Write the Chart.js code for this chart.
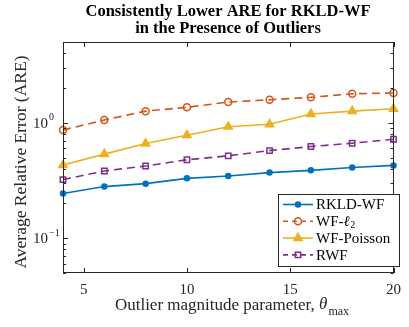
<!DOCTYPE html>
<html>
<head>
<meta charset="utf-8">
<script src="https://cdn.jsdelivr.net/npm/chart.js@4.4.1/dist/chart.umd.min.js"></script>
<style>
  html, body { margin: 0; padding: 0; background: #fff; }
</style>
</head>
<body>
<canvas id="chart" width="409" height="327"></canvas>
<script>
// ── Data ─────────────────────────────────────────────────────────────────────
const thetaMax   = [4, 6, 8, 10, 12, 14, 16, 18, 20];
const areRkldWf  = [0.244, 0.280, 0.297, 0.330, 0.346, 0.370, 0.387, 0.410, 0.427];
const areWfL2    = [0.865, 1.055, 1.26, 1.36, 1.51, 1.58, 1.66, 1.78, 1.81];
const areWfPois  = [0.430, 0.535, 0.660, 0.780, 0.924, 0.969, 1.19, 1.26, 1.32];
const areRwf     = [0.322, 0.382, 0.422, 0.478, 0.517, 0.574, 0.622, 0.665, 0.719];

const xTickValues = [5, 10, 15, 20];
const yMajorTicks = [0.1, 1];
const yMajorExps  = ['-1', '0'];
const yMinorTicks = [0.05, 0.06, 0.07, 0.08, 0.09, 0.2, 0.3, 0.4, 0.5, 0.6, 0.7, 0.8, 0.9, 2, 3, 4, 5];

const TITLE_LINES = ['Consistently Lower ARE for RKLD-WF', 'in the Presence of Outliers'];
const SERIF = "'Liberation Serif', 'Times New Roman', serif";
const INK   = '#262626';

// MATLAB default colour order
const C_BLUE   = '#0072BD';
const C_ORANGE = '#D95319';
const C_YELLOW = '#EDB120';
const C_PURPLE = '#7E2F8E';

function series(label, data, color, style, radius, filled, dashed) {
  return {
    label,
    data: thetaMax.map((x, i) => ({ x, y: data[i] })),
    borderColor: color,
    backgroundColor: color,
    borderWidth: 1.6,
    borderDash: dashed ? [8, 5] : [],
    pointStyle: style,
    pointRadius: radius,
    pointBorderWidth: 1.5,
    pointBorderColor: color,
    pointBackgroundColor: filled ? color : 'rgba(0,0,0,0)',
    tension: 0,
    clip: false,
  };
}

// ── Frame, inward ticks, labels, legend ──────────────────────────────────────
const decorations = {
  id: 'decorations',
  afterDraw(chart) {
    const { ctx, chartArea: a, scales: { x, y } } = chart;
    ctx.save();

    // axes box
    ctx.strokeStyle = INK;
    ctx.lineWidth = 1;
    ctx.strokeRect(Math.round(a.left) + 0.5, Math.round(a.top) + 0.5,
                   Math.round(a.right - a.left) - 1, Math.round(a.bottom - a.top) - 1);

    // x ticks (top and bottom, inward)
    ctx.beginPath();
    xTickValues.forEach(v => {
      const px = Math.round(x.getPixelForValue(v)) + 0.5;
      ctx.moveTo(px, a.bottom); ctx.lineTo(px, a.bottom - 5);
      ctx.moveTo(px, a.top);    ctx.lineTo(px, a.top + 5);
    });
    // y ticks (left and right, inward)
    yMajorTicks.concat(yMinorTicks).forEach(v => {
      const len = yMajorTicks.includes(v) ? 5 : 3;
      const py = Math.round(y.getPixelForValue(v)) + 0.5;
      ctx.moveTo(a.left, py);  ctx.lineTo(a.left + len, py);
      ctx.moveTo(a.right, py); ctx.lineTo(a.right - len, py);
    });
    ctx.stroke();

    // y tick labels with superscripts
    ctx.fillStyle = INK;
    ctx.textBaseline = 'middle';
    yMajorTicks.forEach((v, i) => {
      const py = y.getPixelForValue(v);
      ctx.font = `15px ${SERIF}`;
      ctx.textAlign = 'right';
      ctx.fillText('10', 48, py + 1);
      ctx.font = `10px ${SERIF}`;
      ctx.textAlign = 'left';
      ctx.fillText(yMajorExps[i].replace('-', '\u2212'), 49, py - 5);
    });

    // title
    ctx.textAlign = 'center';
    ctx.font = `bold 16.5px ${SERIF}`;
    ctx.fillStyle = '#000';
    ctx.fillText(TITLE_LINES[0], 228, 12);
    ctx.fillText(TITLE_LINES[1], 228, 29);

    // y-axis title
    ctx.fillStyle = INK;
    ctx.save();
    ctx.translate(21, 162);
    ctx.rotate(-Math.PI / 2);
    ctx.font = `17.5px ${SERIF}`;
    ctx.fillText('Average Relative Error (ARE)', 0, 0);
    ctx.restore();

    // x-axis title with italic theta and subscript
    const partA = 'Outlier magnitude parameter, ';
    ctx.font = `17px ${SERIF}`;
    const wA = ctx.measureText(partA).width;
    ctx.font = `italic 17px ${SERIF}`;
    const wT = ctx.measureText('\u03B8').width;
    ctx.font = `12px ${SERIF}`;
    const wS = ctx.measureText('max').width;
    let tx = 232 - (wA + wT + wS + 1) / 2;
    ctx.textAlign = 'left';
    ctx.font = `17px ${SERIF}`;
    ctx.fillText(partA, tx, 306);
    tx += wA;
    ctx.font = `italic 17px ${SERIF}`;
    ctx.fillText('\u03B8', tx, 305);
    tx += wT + 1;
    ctx.font = `12px ${SERIF}`;
    ctx.fillText('max', tx, 312);

    // legend box (bottom-right, inside axes)
    const lx = 278, ly = 194, lw = 121, lh = 72;
    ctx.fillStyle = '#fff';
    ctx.fillRect(lx, ly, lw, lh);
    ctx.strokeStyle = INK;
    ctx.lineWidth = 1;
    ctx.strokeRect(lx + 0.5, ly + 0.5, lw, lh);

    chart.data.datasets.forEach((ds, i) => {
      const ry = ly + 10.5 + i * 16.8;
      ctx.save();
      ctx.strokeStyle = ds.borderColor;
      ctx.lineWidth = ds.borderWidth;
      ctx.setLineDash(ds.borderDash.length ? [5, 4] : []);
      ctx.beginPath();
      ctx.moveTo(283, ry); ctx.lineTo(313, ry);
      ctx.stroke();
      ctx.setLineDash([]);
      ctx.fillStyle = ds.pointBackgroundColor;
      ctx.strokeStyle = ds.pointBorderColor;
      ctx.lineWidth = ds.pointBorderWidth;
      Chart.helpers.drawPoint(ctx, {
        pointStyle: ds.pointStyle, radius: ds.pointRadius,
        borderWidth: ds.pointBorderWidth, rotation: 0,
      }, 298, ry);
      ctx.restore();

      ctx.fillStyle = '#000';
      ctx.textAlign = 'left';
      ctx.font = `15px ${SERIF}`;
      if (ds.label === 'WF-l2') {
        ctx.fillText('WF-', 316, ry + 1);
        const w1 = ctx.measureText('WF-').width;
        ctx.font = `italic 15px ${SERIF}`;
        ctx.fillText('\u2113', 316 + w1, ry + 1);
        const w2 = ctx.measureText('\u2113').width;
        ctx.font = `10px ${SERIF}`;
        ctx.fillText('2', 316 + w1 + w2 + 0.5, ry + 4);
      } else {
        ctx.fillText(ds.label, 316, ry + 1);
      }
    });

    ctx.restore();
  },
};

new Chart(document.getElementById('chart'), {
  type: 'line',
  data: {
    datasets: [
      series('RKLD-WF',    areRkldWf, C_BLUE,   'circle',   2.5, true,  false),
      series('WF-l2',      areWfL2,   C_ORANGE, 'circle',   3.5, false, true),
      series('WF-Poisson', areWfPois, C_YELLOW, 'triangle', 4.8, true,  false),
      series('RWF',        areRwf,    C_PURPLE, 'rect',     3.8, false, true),
    ],
  },
  options: {
    responsive: false,
    animation: false,
    devicePixelRatio: 1,
    layout: { padding: { top: 42, right: 7, left: 0, bottom: 0 } },
    plugins: { legend: { display: false }, title: { display: false }, tooltip: { enabled: false } },
    scales: {
      x: {
        type: 'linear',
        min: 4,
        max: 20,
        afterBuildTicks: s => { s.ticks = xTickValues.map(v => ({ value: v })); },
        afterFit: s => { s.height = 54; },
        grid: { display: false, drawTicks: false },
        border: { display: false },
        ticks: { color: INK, padding: 8, maxRotation: 0, font: { family: SERIF, size: 15 } },
      },
      y: {
        type: 'logarithmic',
        min: 0.05,
        max: 5,
        afterFit: s => { s.width = 63; },
        grid: { display: false, drawTicks: false },
        border: { display: false },
        ticks: { display: false },
      },
    },
  },
  plugins: [decorations],
});
</script>
</body>
</html>
